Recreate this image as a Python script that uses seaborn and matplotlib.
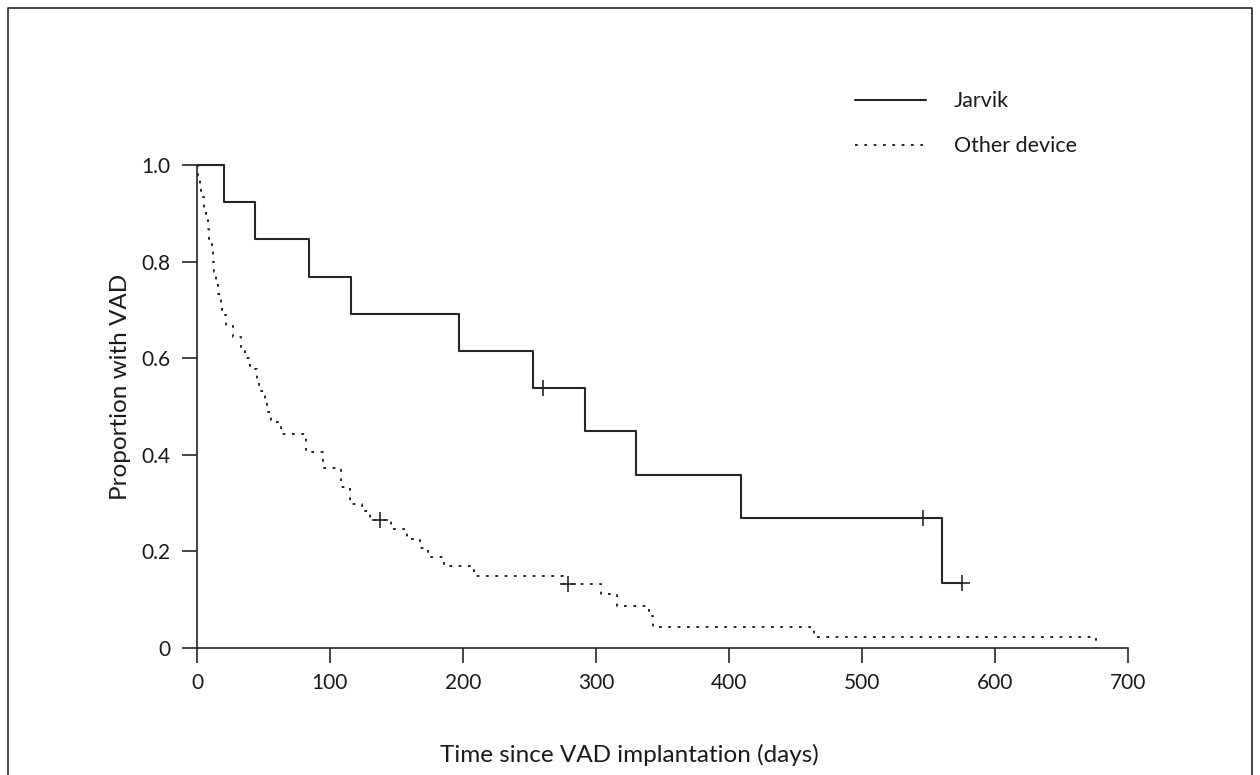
import matplotlib
matplotlib.use("Agg")
import matplotlib.pyplot as plt
from matplotlib.lines import Line2D
import seaborn as sns
import pandas as pd

# Kaplan-Meier estimates: days since implantation and proportion still on VAD
jarvik_days = [0, 20, 44, 84, 116, 197, 253, 292, 330, 409, 560, 575]
jarvik_surv = [1.0, 0.923, 0.846, 0.769, 0.692, 0.615, 0.538, 0.449, 0.359, 0.269, 0.135, 0.135]
jarvik_censor_days = [260, 546, 575]
jarvik_censor_surv = [0.538, 0.269, 0.135]

other_days = [0, 1, 2, 3, 5, 7, 8, 9, 11, 12, 13, 14, 16, 18, 19, 22, 27, 33, 36, 40,
              45, 47, 51, 53, 56, 63, 82, 95, 108, 115, 124, 130, 146, 158, 168, 174,
              186, 208, 275, 304, 316, 340, 343, 464, 676]
other_surv = [1.0, 0.978, 0.956, 0.933, 0.911, 0.889, 0.867, 0.844, 0.822, 0.800,
              0.778, 0.756, 0.733, 0.711, 0.689, 0.667, 0.644, 0.622, 0.600, 0.578,
              0.556, 0.533, 0.511, 0.489, 0.467, 0.444, 0.406, 0.372, 0.334, 0.298,
              0.283, 0.265, 0.247, 0.226, 0.207, 0.188, 0.170, 0.149, 0.132, 0.112,
              0.087, 0.066, 0.044, 0.022, 0.0]
other_censor_days = [138, 279]
other_censor_surv = [0.265, 0.132]

group_names = ["Jarvik", "Other device"]
x_ticks = [0, 100, 200, 300, 400, 500, 600, 700]
y_ticks = [0, 0.2, 0.4, 0.6, 0.8, 1.0]
y_tick_labels = ["0", "0.2", "0.4", "0.6", "0.8", "1.0"]

sns.set_style("ticks")
plt.rcParams["font.family"] = ["Lato", "DejaVu Sans"]

ink = "#262626"
text_col = "#1a1a1a"
dotted = (0, (1.4, 3.4))

fig = plt.figure(figsize=(12.6, 7.75), dpi=100)
ax = fig.add_axes([0.1563, 0.1639, 0.7389, 0.6232])

jarvik_df = pd.DataFrame({"days": jarvik_days, "surv": jarvik_surv})
other_df = pd.DataFrame({"days": other_days, "surv": other_surv})

sns.lineplot(data=jarvik_df, x="days", y="surv", ax=ax, estimator=None, sort=False,
             drawstyle="steps-post", color=ink, linewidth=1.5, clip_on=False)
sns.lineplot(data=other_df, x="days", y="surv", ax=ax, estimator=None, sort=False,
             drawstyle="steps-post", color=ink, linewidth=1.4,
             linestyle=dotted, clip_on=False)

censor_df = pd.DataFrame({
    "days": jarvik_censor_days + other_censor_days,
    "surv": jarvik_censor_surv + other_censor_surv,
})
sns.scatterplot(data=censor_df, x="days", y="surv", ax=ax, marker="+", s=140,
                color=ink, linewidth=1.2, zorder=5, clip_on=False)

ax.set_xlim(0, 700)
ax.set_ylim(0, 1.0)
ax.set_xticks(x_ticks)
ax.set_xticklabels([str(v) for v in x_ticks])
ax.set_yticks(y_ticks)
ax.set_yticklabels(y_tick_labels)
ax.tick_params(axis="both", direction="out", length=11, width=1.2, color=ink,
               labelsize=15, labelcolor=text_col)
ax.tick_params(axis="x", pad=7)
ax.tick_params(axis="y", pad=8)
for side in ("top", "right"):
    ax.spines[side].set_visible(False)
for side in ("left", "bottom"):
    ax.spines[side].set_color(ink)
    ax.spines[side].set_linewidth(1.2)

ax.set_xlabel("Time since VAD implantation (days)", fontsize=17.5, color=text_col)
ax.set_ylabel("Proportion with VAD", fontsize=17.5, color=text_col)
ax.xaxis.set_label_coords(0.465, -0.198)
ax.yaxis.set_label_coords(-0.071, 0.54)

handles = [
    Line2D([0], [0], color=ink, linewidth=1.5),
    Line2D([0], [0], color=ink, linewidth=1.4, linestyle=dotted),
]
leg = fig.legend(handles, group_names, loc="upper left", bbox_to_anchor=(0.663, 0.907),
                 frameon=False, fontsize=15.5, handlelength=3.3, handletextpad=1.3,
                 labelspacing=1.15)
for t in leg.get_texts():
    t.set_color(text_col)

# thin frame around the figure (left, top, right)
fx0, fx1, fy1 = 8 / 1260, 1252 / 1260, 1 - 8 / 775
fig.add_artist(Line2D([fx0, fx0, fx1, fx1], [0, fy1, fy1, 0],
                      transform=fig.transFigure, color=ink, linewidth=1.2))

fig.savefig("out.png", dpi=100)
